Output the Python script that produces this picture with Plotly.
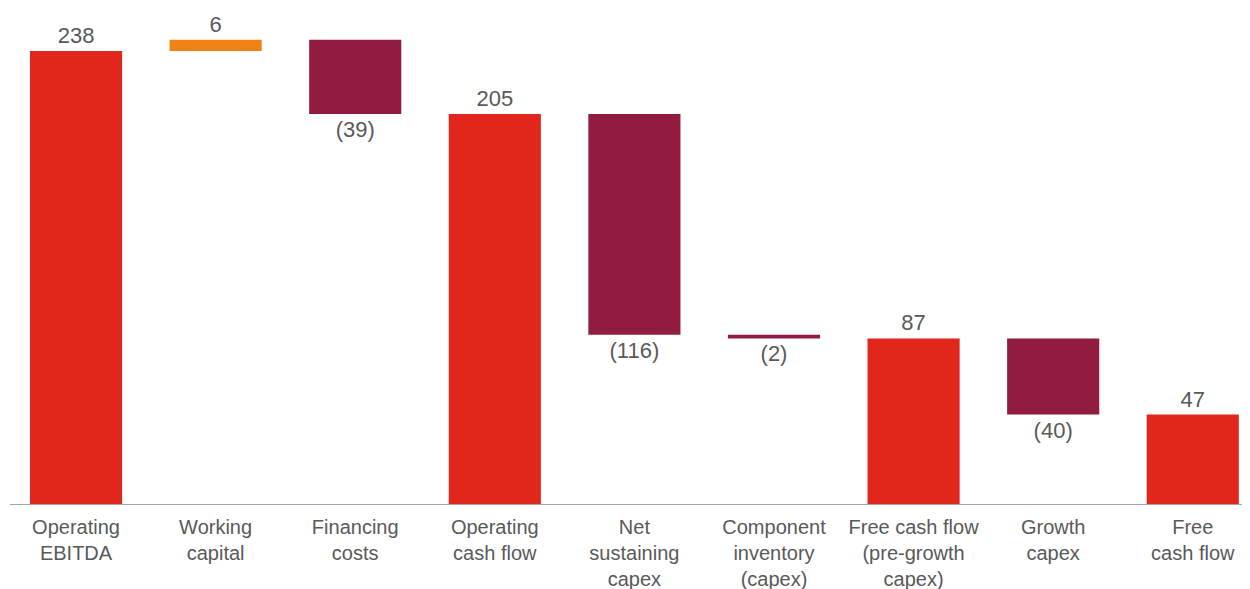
import plotly.graph_objects as go

categories = ["Operating<br>EBITDA", "Working<br>capital", "Financing<br>costs",
              "Operating<br>cash flow", "Net<br>sustaining<br>capex", "Component<br>inventory<br>(capex)",
              "Free cash flow<br>(pre-growth<br>capex)", "Growth<br>capex", "Free<br>cash flow"]
measures = ["absolute", "relative", "relative", "total", "relative", "relative", "total", "relative", "total"]
values = [238, 6, -39, 205, -116, -2, 87, -40, 47]

labels = [f"({abs(v)})" if v < 0 else f"{v}" for v in values]

RED = "#E1261C"
ORANGE = "#EE8214"
MAROON = "#921C40"
TXT = "#595959"

fig = go.Figure(go.Waterfall(
    x=categories,
    measure=measures,
    y=values,
    text=labels,
    textposition="outside",
    textfont=dict(family="Liberation Sans, Arial, sans-serif", size=22, color=TXT),
    increasing=dict(marker=dict(color=ORANGE, line=dict(width=0))),
    decreasing=dict(marker=dict(color=MAROON, line=dict(width=0))),
    totals=dict(marker=dict(color=RED, line=dict(width=0))),
    connector=dict(visible=False),
    width=0.66,
    cliponaxis=False,
))

fig.update_layout(
    width=1250, height=589,
    margin=dict(l=2, r=8, t=2, b=93),
    paper_bgcolor="white", plot_bgcolor="white",
    showlegend=False,
    font=dict(family="Liberation Sans, Arial, sans-serif", size=20, color=TXT),
    xaxis=dict(range=[-0.473, 8.41], showline=True, linecolor="#A6A6A6", linewidth=1,
               showgrid=False, ticks="", ticklabelstandoff=5,
               tickfont=dict(size=20, color=TXT)),
    yaxis=dict(range=[0, 259.6], visible=False, showgrid=False, zeroline=False),
)

fig.write_html("out.html")
